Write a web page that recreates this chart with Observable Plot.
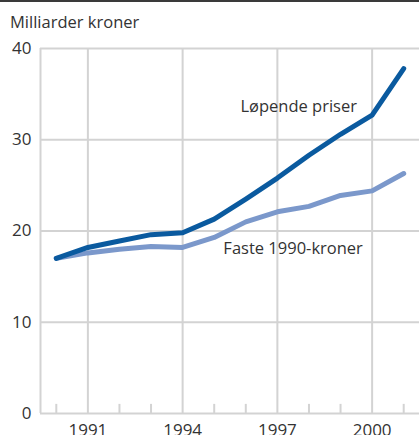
<!DOCTYPE html>
<html>
<head>
<meta charset="utf-8">
<script src="https://cdn.jsdelivr.net/npm/d3@7"></script>
<script src="https://cdn.jsdelivr.net/npm/@observablehq/plot@0.6"></script>
<style>
  html, body { margin: 0; padding: 0; background: #fff; }
  #wrap { width: 419px; border-top: 2px solid #3a3a3a; font-family: "Open Sans", sans-serif; color: #333; }
  #title { font-size: 16.5px; line-height: 20px; padding: 10px 0 0 10px; height: 20px; }
  svg { display: block; }
</style>
</head>
<body>
<div id="wrap">
  <div id="title">Milliarder kroner</div>
  <div id="chart"></div>
</div>
<script>
const years = [1990, 1991, 1992, 1993, 1994, 1995, 1996, 1997, 1998, 1999, 2000, 2001];
const lopende = [17.0, 18.2, 18.9, 19.6, 19.8, 21.3, 23.5, 25.8, 28.3, 30.6, 32.7, 37.8];
const faste = [17.0, 17.6, 18.0, 18.3, 18.2, 19.3, 21.0, 22.1, 22.7, 23.9, 24.4, 26.3];
const majorYears = [1991, 1994, 1997, 2000];
const minorYears = [1990, 1992, 1993, 1995, 1996, 1998, 1999, 2001];
const yTicks = [0, 10, 20, 30, 40];
const seriesNames = ["Løpende priser", "Faste 1990-kroner"];
const labelPos = [{x: 1995.83, y: 33.6}, {x: 1995.29, y: 18.1}];

const grid = "#d3d3d3";
const colors = ["#0a5a9f", "#7b98cb"];

const rows = (vals) => years.map((yr, i) => ({year: yr, value: vals[i]}));
const labels = seriesNames.map((t, i) => ({text: t, x: labelPos[i].x, y: labelPos[i].y}));

const chart = Plot.plot({
  width: 419,
  height: 403,
  marginTop: 16,
  marginBottom: 22,
  marginLeft: 40,
  marginRight: 0,
  style: {fontFamily: "Open Sans, sans-serif", fontSize: "17px", color: "#333", background: "#fff"},
  x: {domain: [1989.5, 2001.5], ticks: majorYears, tickFormat: d => String(d), tickSize: 0, tickPadding: 10, label: null},
  y: {domain: [0, 40], ticks: yTicks, tickSize: 0, tickPadding: 9, label: null},
  marks: [
    Plot.ruleY(yTicks.filter(d => d > 0), {stroke: grid, strokeWidth: 2}),
    Plot.ruleX(majorYears, {y1: 0, y2: 40, stroke: grid, strokeWidth: 2}),
    Plot.ruleX([1989.5], {y1: 0, y2: 40, stroke: grid, strokeWidth: 2}),
    Plot.ruleX(minorYears, {y1: 0, y2: 1, stroke: grid, strokeWidth: 2}),
    Plot.ruleY([0], {stroke: grid, strokeWidth: 2}),
    Plot.line(rows(faste), {x: "year", y: "value", stroke: colors[1], strokeWidth: 5, strokeLinecap: "round", strokeLinejoin: "round"}),
    Plot.line(rows(lopende), {x: "year", y: "value", stroke: colors[0], strokeWidth: 5, strokeLinecap: "round", strokeLinejoin: "round"}),
    Plot.text(labels, {x: "x", y: "y", text: "text", textAnchor: "start", fill: "#333", fontSize: 16.5})
  ]
});
document.getElementById("chart").appendChild(chart);
</script>
</body>
</html>
